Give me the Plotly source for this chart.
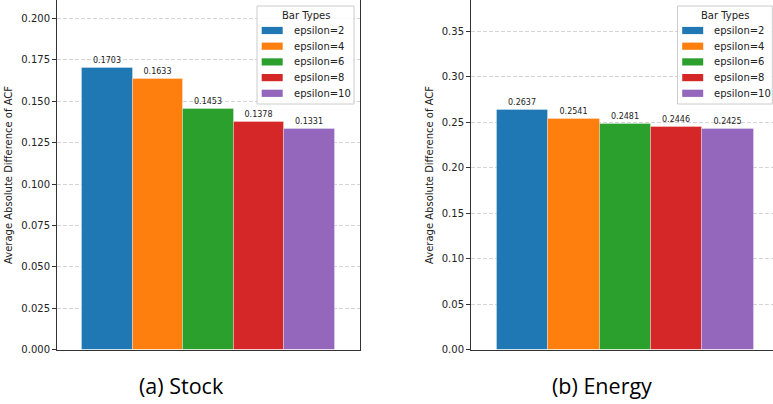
import plotly.graph_objects as go

labels = ["epsilon=2", "epsilon=4", "epsilon=6", "epsilon=8", "epsilon=10"]
stock_vals = [0.1703, 0.1633, 0.1453, 0.1378, 0.1331]
energy_vals = [0.2637, 0.2541, 0.2481, 0.2446, 0.2425]
colors = ["#1f77b4", "#ff7f0e", "#2ca02c", "#d62728", "#9467bd"]
captions = ["(a) Stock", "(b) Energy"]
ytitle = "Average Absolute Difference of ACF"
legend_title = "Bar Types"

W, H = 773, 404
FONT = "DejaVu Sans"


def px(x):
    return x / W


def py(y):
    return 1 - y / H


fig = go.Figure()

for vals, xa, ya in [(stock_vals, "x", "y"), (energy_vals, "x2", "y2")]:
    for i, (lab, c) in enumerate(zip(labels, colors)):
        fig.add_trace(go.Bar(
            x=[lab], y=[vals[i]], name=lab, marker_color=c,
            marker_line=dict(width=1, color="rgba(255,255,255,0.3)"), width=1,
            text=[f"{vals[i]:.4f}"], textposition="outside",
            textfont=dict(size=8, color="#222", family=FONT), cliponaxis=False,
            xaxis=xa, yaxis=ya, showlegend=False))

ydom = [py(349.6), 1.0]
axis_common = dict(showline=True, linecolor="#333", linewidth=1, zeroline=False)
yax_common = dict(
    showgrid=True, gridcolor="#d4d4d4", griddash="4px,2px", gridwidth=0.8,
    ticks="outside", ticklen=4, tickcolor="#333", tickwidth=1,
    tickfont=dict(size=10, family=FONT, color="#222"),
)

fig.update_layout(
    width=W, height=H, margin=dict(l=0, r=0, t=0, b=0, pad=0),
    plot_bgcolor="white", paper_bgcolor="white",
    barmode="overlay", bargap=0, showlegend=False,
    font=dict(family=FONT),
    xaxis=dict(domain=[px(57), px(360)], range=[-1, 5], showticklabels=False,
               ticks="", showgrid=False, mirror=True, anchor="y", automargin=False,
               categoryorder="array", categoryarray=labels, **axis_common),
    yaxis=dict(domain=ydom, range=[0, 0.2112], dtick=0.025, tickformat=".3f",
               mirror=True, anchor="x", automargin=False, **axis_common, **yax_common),
    xaxis2=dict(domain=[px(471), 1.0], range=[-1, 4.875], showticklabels=False,
                ticks="", showgrid=False, mirror=True, anchor="y2", automargin=False,
                categoryorder="array", categoryarray=labels, **axis_common),
    yaxis2=dict(domain=ydom, range=[0, 0.3847], dtick=0.05, tickformat=".2f",
                mirror=False, anchor="x2", automargin=False, **axis_common, **yax_common),
)

# y-axis titles
for xc in (9, 430):
    fig.add_annotation(text=ytitle, x=px(xc), y=py(175), xref="paper", yref="paper",
                       xanchor="center", yanchor="middle",
                       textangle=-90, showarrow=False,
                       font=dict(size=10, family=FONT, color="#222"))

# captions
for cap, xc in zip(captions, (181, 602)):
    fig.add_annotation(text=cap, x=px(xc), y=py(385.5), xref="paper", yref="paper",
                       xanchor="center", yanchor="middle", showarrow=False,
                       font=dict(size=21.5, family="Open Sans", color="#000"))

# legends (drawn as boxes, patches and texts)
for box_l, box_r in [(257, 354), (677.5, 772.3)]:
    fig.add_shape(type="rect", xref="paper", yref="paper",
                  x0=px(box_l), x1=px(box_r), y0=py(104), y1=py(6),
                  fillcolor="rgba(255,255,255,0.85)", line=dict(color="#cccccc", width=1),
                  layer="above")
    fig.add_annotation(text=legend_title, x=px((box_l + box_r) / 2), y=py(15.5),
                       xref="paper", yref="paper", xanchor="center", yanchor="middle",
                       showarrow=False, font=dict(size=10, family=FONT, color="#222"))
    for i, (lab, c) in enumerate(zip(labels, colors)):
        yc = 30.5 + i * 15.7
        fig.add_shape(type="rect", xref="paper", yref="paper",
                      x0=px(box_l + 4.7), x1=px(box_l + 25.7),
                      y0=py(yc + 3.6), y1=py(yc - 3.6),
                      fillcolor=c, line=dict(width=0), layer="above")
        fig.add_annotation(text=lab, x=px(box_l + 34.5), y=py(yc),
                           xref="paper", yref="paper", xanchor="left", yanchor="middle",
                           showarrow=False, font=dict(size=10, family=FONT, color="#222"))

fig.write_html("out.html")
